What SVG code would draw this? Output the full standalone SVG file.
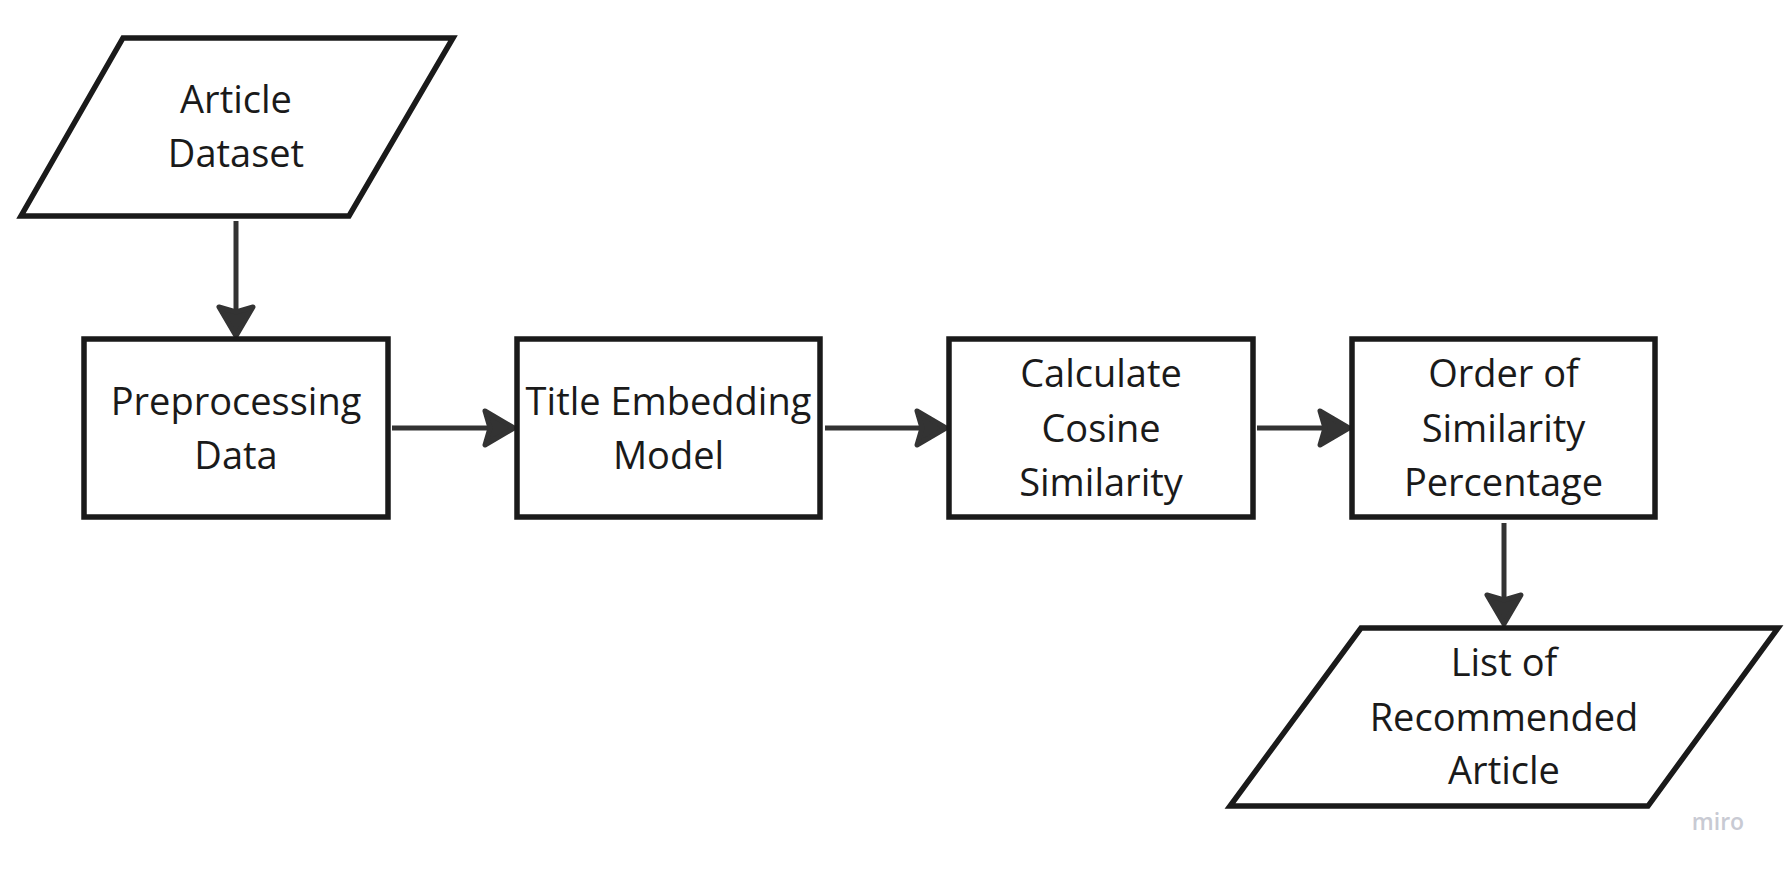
<svg xmlns="http://www.w3.org/2000/svg" width="1789" height="873" viewBox="0 0 1789 873">
  <style>
    .shape { fill: #ffffff; stroke: #1a1a1a; stroke-width: 5.5; stroke-linejoin: miter; }
    .label { font-family: "Open Sans", "Liberation Sans", sans-serif; font-size: 38px; fill: #1a1a1a; text-anchor: middle; }
    .conn { stroke: #333333; stroke-width: 5; fill: none; marker-end: url(#arrow); }
    .wm { font-family: "Open Sans", "Liberation Sans", sans-serif; font-size: 23px; font-weight: 600; fill: #c8cad3; text-anchor: middle; }
  </style>
  <defs>
    <marker id="arrow" markerUnits="userSpaceOnUse" markerWidth="46" markerHeight="48" viewBox="-5 -4 42 48" refX="12" refY="20" orient="auto">
      <path d="M1,3 L30,20 L1,37 L6,20 z" fill="#333333" stroke="#333333" stroke-width="5" stroke-linejoin="round"/>
    </marker>
  </defs>
  <rect width="1789" height="873" fill="#ffffff"/>

  <g id="connectors">
    <line class="conn" x1="236" y1="221" x2="236" y2="318"/>
    <line class="conn" x1="392" y1="428" x2="496" y2="428"/>
    <line class="conn" x1="825" y1="428" x2="928" y2="428"/>
    <line class="conn" x1="1257" y1="428" x2="1331" y2="428"/>
    <line class="conn" x1="1504" y1="523" x2="1504" y2="606"/>
  </g>

  <g id="article-dataset">
    <polygon class="shape" points="123,38 453,38 349,216 21,216"/>
    <text class="label" x="236" y="113">Article</text>
    <text class="label" x="236" y="167">Dataset</text>
  </g>

  <g id="preprocessing">
    <rect class="shape" x="84" y="339" width="304" height="178"/>
    <text class="label" x="236" y="415">Preprocessing</text>
    <text class="label" x="236" y="469">Data</text>
  </g>

  <g id="title-embedding">
    <rect class="shape" x="517" y="339" width="303" height="178"/>
    <text class="label" x="668.5" y="415">Title Embedding</text>
    <text class="label" x="668.5" y="469">Model</text>
  </g>

  <g id="cosine">
    <rect class="shape" x="949" y="339" width="304" height="178"/>
    <text class="label" x="1101" y="387">Calculate</text>
    <text class="label" x="1101" y="442">Cosine</text>
    <text class="label" x="1101" y="496">Similarity</text>
  </g>

  <g id="order">
    <rect class="shape" x="1352" y="339" width="303" height="178"/>
    <text class="label" x="1503.5" y="387">Order of</text>
    <text class="label" x="1503.5" y="442">Similarity</text>
    <text class="label" x="1503.5" y="496">Percentage</text>
  </g>

  <g id="recommended">
    <polygon class="shape" points="1361,628 1778,628 1648,806 1230,806"/>
    <text class="label" x="1504" y="676">List of</text>
    <text class="label" x="1504" y="731">Recommended</text>
    <text class="label" x="1504" y="784">Article</text>
  </g>

  <text class="wm" x="1718" y="830">miro</text>
</svg>
